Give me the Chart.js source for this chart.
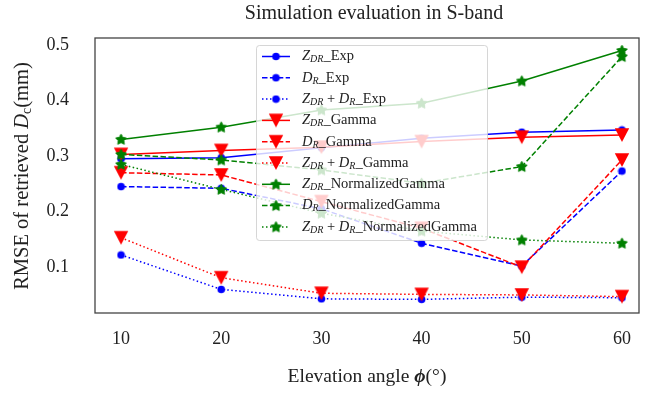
<!DOCTYPE html>
<html>
<head>
<meta charset="utf-8">
<script src="https://cdn.jsdelivr.net/npm/chart.js@4.4.0/dist/chart.umd.min.js"></script>
<style>
  html, body { margin: 0; padding: 0; background: #fff; }
  #wrap { width: 654px; height: 394px; position: relative; }
</style>
</head>
<body>
<div id="wrap"><canvas id="rmseChart" width="654" height="394"></canvas></div>
<script>
// elevation angles (deg)
const elevation = [10, 20, 30, 40, 50, 60];
const xTicks = [10, 20, 30, 40, 50, 60];
const yTicks = [0.1, 0.2, 0.3, 0.4, 0.5];

// RMSE of retrieved Dc (mm)
const zdrExp      = [0.295, 0.297, 0.315, 0.332, 0.343, 0.347];
const drExp       = [0.245, 0.242, 0.205, 0.143, 0.102, 0.273];
const zdrDrExp    = [0.122, 0.060, 0.043, 0.042, 0.046, 0.045];
const zdrGamma    = [0.303, 0.310, 0.316, 0.326, 0.334, 0.338];
const drGamma     = [0.270, 0.266, 0.218, 0.170, 0.100, 0.293];
const zdrDrGamma  = [0.153, 0.081, 0.053, 0.051, 0.050, 0.047];
const zdrNG       = [0.330, 0.352, 0.383, 0.395, 0.435, 0.490];
const drNG        = [0.303, 0.293, 0.275, 0.251, 0.281, 0.479];
const zdrDrNG     = [0.285, 0.240, 0.197, 0.165, 0.149, 0.143];

const FONT = "'Liberation Serif', 'DejaVu Serif', serif";
const BLUE = '#0000ff', RED = '#ff0000', GREEN = '#008000';
const DASH = [5.5, 2.4], DOT = [1.5, 2.5];

// marker images (matplotlib-like o, v, *)
function makeCircle(color) {
    const c = document.createElement('canvas');
    c.width = 9; c.height = 9;
    const g = c.getContext('2d');
    g.fillStyle = color;
    g.beginPath();
    g.arc(4.5, 4.5, 3.8, 0, Math.PI * 2);
    g.fill();
    return c;
}
function makeTriangle(color) {
    const c = document.createElement('canvas');
    c.width = 16; c.height = 16;
    const g = c.getContext('2d');
    g.fillStyle = color;
    g.beginPath();
    g.moveTo(0.8, 1.2);
    g.lineTo(15.2, 1.2);
    g.lineTo(8, 15);
    g.closePath();
    g.fill();
    return c;
}
function makeStar(color) {
    const c = document.createElement('canvas');
    c.width = 13; c.height = 13;
    const g = c.getContext('2d');
    g.fillStyle = color;
    g.strokeStyle = color;
    g.lineWidth = 1;
    g.beginPath();
    for (let i = 0; i < 10; i++) {
        const r = i % 2 === 0 ? 5.6 : 2.9;
        const a = -Math.PI / 2 + i * Math.PI / 5;
        const px = 6.5 + r * Math.cos(a), py = 6.8 + r * Math.sin(a);
        if (i === 0) g.moveTo(px, py); else g.lineTo(px, py);
    }
    g.closePath();
    g.fill();
    g.stroke();
    return c;
}

const circleImg = makeCircle(BLUE);
const triImg = makeTriangle(RED);
const starImg = makeStar(GREEN);

// label runs: t = text, i = italic, s = subscript
const series = [
    { data: zdrExp,     color: BLUE,  dash: [],   marker: circleImg, label: [{t:'Z',i:1},{t:'DR',i:1,s:1},{t:'_Exp'}] },
    { data: drExp,      color: BLUE,  dash: DASH, marker: circleImg, label: [{t:'D',i:1},{t:'R',i:1,s:1},{t:'_Exp'}] },
    { data: zdrDrExp,   color: BLUE,  dash: DOT,  marker: circleImg, label: [{t:'Z',i:1},{t:'DR',i:1,s:1},{t:' + '},{t:'D',i:1},{t:'R',i:1,s:1},{t:'_Exp'}] },
    { data: zdrGamma,   color: RED,   dash: [],   marker: triImg,    label: [{t:'Z',i:1},{t:'DR',i:1,s:1},{t:'_Gamma'}] },
    { data: drGamma,    color: RED,   dash: DASH, marker: triImg,    label: [{t:'D',i:1},{t:'R',i:1,s:1},{t:'_Gamma'}] },
    { data: zdrDrGamma, color: RED,   dash: DOT,  marker: triImg,    label: [{t:'Z',i:1},{t:'DR',i:1,s:1},{t:' + '},{t:'D',i:1},{t:'R',i:1,s:1},{t:'_Gamma'}] },
    { data: zdrNG,      color: GREEN, dash: [],   marker: starImg,   label: [{t:'Z',i:1},{t:'DR',i:1,s:1},{t:'_NormalizedGamma'}] },
    { data: drNG,       color: GREEN, dash: DASH, marker: starImg,   label: [{t:'D',i:1},{t:'R',i:1,s:1},{t:'_NormalizedGamma'}] },
    { data: zdrDrNG,    color: GREEN, dash: DOT,  marker: starImg,   label: [{t:'Z',i:1},{t:'DR',i:1,s:1},{t:' + '},{t:'D',i:1},{t:'R',i:1,s:1},{t:'_NormalizedGamma'}] }
];

function runFont(r, size) {
    const sz = r.s ? Math.round(size * 0.7) : size;
    return (r.i ? 'italic ' : '') + (r.b ? 'bold ' : '') + sz + 'px ' + FONT;
}
function runsWidth(ctx, runs, size) {
    let w = 0;
    runs.forEach(r => { ctx.font = runFont(r, size); w += ctx.measureText(r.t).width; });
    return w;
}
// draws runs starting at x, baseline-middle at y
function drawRuns(ctx, runs, x, y, size, color) {
    ctx.fillStyle = color;
    ctx.textBaseline = 'middle';
    ctx.textAlign = 'left';
    runs.forEach(r => {
        ctx.font = runFont(r, size);
        ctx.fillText(r.t, x, y + (r.s ? size * 0.22 : 0));
        x += ctx.measureText(r.t).width;
    });
}

const decorPlugin = {
    id: 'decor',
    afterDatasetsDraw(chart) {
        const ctx = chart.ctx;
        const a = chart.chartArea;
        ctx.save();
        // frame
        ctx.strokeStyle = '#444';
        ctx.lineWidth = 1.3;
        ctx.strokeRect(a.left, a.top, a.right - a.left, a.bottom - a.top);

        // legend box
        const lx = 256, ly = 45, lw = 231, lh = 195;
        ctx.fillStyle = 'rgba(255,255,255,0.8)';
        ctx.strokeStyle = 'rgba(204,204,204,0.8)';
        ctx.lineWidth = 1;
        ctx.beginPath();
        ctx.roundRect(lx + 0.5, ly + 0.5, lw, lh, 3);
        ctx.fill();
        ctx.stroke();
        series.forEach((s, i) => {
            const y = 56.5 + i * 21.3;
            ctx.strokeStyle = s.color;
            ctx.lineWidth = 1.5;
            ctx.setLineDash(s.dash);
            ctx.beginPath();
            ctx.moveTo(262, y);
            ctx.lineTo(290, y);
            ctx.stroke();
            ctx.setLineDash([]);
            ctx.drawImage(s.marker, 276 - s.marker.width / 2, y - s.marker.height / 2);
            drawRuns(ctx, s.label, 302, y, 14.5, '#222');
        });
        ctx.restore();
    },
    afterDraw(chart) {
        const ctx = chart.ctx;
        const a = chart.chartArea;
        ctx.save();
        // title
        ctx.fillStyle = '#222';
        ctx.font = '20px ' + FONT;
        ctx.textAlign = 'center';
        ctx.textBaseline = 'middle';
        ctx.fillText('Simulation evaluation in S-band', (a.left + a.right) / 2 + 7, 14);

        // x title
        const xRuns = [{t:'Elevation angle '},{t:'\u03d5',i:1,b:1},{t:'(\u00b0)'}];
        const xw = runsWidth(ctx, xRuns, 19.5);
        drawRuns(ctx, xRuns, (a.left + a.right) / 2 - xw / 2, 377, 19.5, '#222');

        // y title
        const yRuns = [{t:'RMSE of retrieved '},{t:'D',i:1},{t:'c',s:1},{t:'(mm)'}];
        const yw = runsWidth(ctx, yRuns, 20.5);
        ctx.translate(23, 176);
        ctx.rotate(-Math.PI / 2);
        drawRuns(ctx, yRuns, -yw / 2, 0, 20.5, '#222');
        ctx.restore();
    }
};

const datasets = series.map((s, i) => ({
    data: elevation.map((x, k) => ({ x: x, y: s.data[k] })),
    borderColor: s.color,
    backgroundColor: s.color,
    borderWidth: 1.5,
    borderDash: s.dash,
    pointStyle: s.marker,
    pointRadius: 5,
    tension: 0,
    fill: false,
    order: series.length - i
}));

new Chart(document.getElementById('rmseChart').getContext('2d'), {
    type: 'line',
    data: { datasets: datasets },
    options: {
        responsive: false,
        animation: false,
        events: [],
        layout: { padding: { top: 38, right: 15, left: 0, bottom: 0 } },
        plugins: { legend: { display: false }, title: { display: false }, tooltip: { enabled: false } },
        scales: {
            x: {
                type: 'linear',
                min: 7.4,
                max: 61.7,
                grid: { display: false, drawTicks: false },
                border: { display: false },
                afterBuildTicks: axis => { axis.ticks = xTicks.map(v => ({ value: v })); },
                afterFit: axis => { axis.height = 81; },
                ticks: {
                    padding: 15,
                    color: '#222',
                    font: { family: FONT, size: 18 },
                    maxRotation: 0,
                    callback: v => String(v)
                }
            },
            y: {
                type: 'linear',
                min: 0.0175,
                max: 0.5125,
                grid: { display: false, drawTicks: false },
                border: { display: false },
                afterBuildTicks: axis => { axis.ticks = yTicks.map(v => ({ value: v })); },
                afterFit: axis => { axis.width = 95; },
                ticks: {
                    padding: 26,
                    color: '#222',
                    font: { family: FONT, size: 18 },
                    callback: v => v.toFixed(1)
                }
            }
        }
    },
    plugins: [decorPlugin]
});
</script>
</body>
</html>
